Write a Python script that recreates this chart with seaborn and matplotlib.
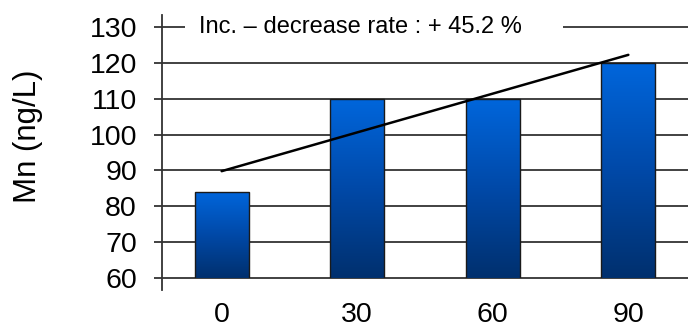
import numpy as np
import pandas as pd
import matplotlib
matplotlib.use("Agg")
import matplotlib.pyplot as plt
import seaborn as sns
from matplotlib.patches import Rectangle
from matplotlib.colors import LinearSegmentedColormap

# ---- data ----
days = ["0", "30", "60", "90"]
mn_values = [84, 110, 110, 120]
y_ticks = [60, 70, 80, 90, 100, 110, 120, 130]
y_label = "Mn (ng/L)"
rate_text = "Inc. \u2013 decrease rate : + 45.2 %"

sns.set_theme(style="white")
plt.rcParams["font.family"] = ["Liberation Sans", "DejaVu Sans"]

fig = plt.figure(figsize=(6.88, 3.29), dpi=100)
ax = fig.add_axes([162 / 688, 1 - 290 / 329, 1 - 162 / 688, (290 - 15) / 329])

df = pd.DataFrame({"day": days, "mn": mn_values})
sns.barplot(data=df, x="day", y="mn", ax=ax, width=0.4, facecolor="none",
            edgecolor="#1a1a1a", linewidth=1.0, zorder=3, errorbar=None)

XL = (-0.44, 3.44)
YL = (56.7, 133.3)

# gradient fill, bars start at 60
cmap = LinearSegmentedColormap.from_list("bl", ["#00306e", "#0049a8", "#0066dc"])
grad = np.linspace(0, 1, 256).reshape(-1, 1)
base = 60
clip = Rectangle((-1, base), 10, 200, transform=ax.transData)
for p in ax.patches:
    x0 = p.get_x(); w = p.get_width(); h = p.get_height()
    im = ax.imshow(grad, extent=[x0, x0 + w, base, h], origin="lower", cmap=cmap,
                   aspect="auto", zorder=2)
    im.set_clip_path(p)
    p.set_clip_path(clip)

# trend line
xpos = np.arange(len(mn_values))
sns.regplot(x=xpos, y=np.array(mn_values, dtype=float), ax=ax, scatter=False,
            ci=None, truncate=True, line_kws=dict(color="black", lw=1.8, zorder=5))
ax.set_xlim(*XL)
ax.set_ylim(*YL)

# grid
ax.set_yticks(y_ticks)
for yv in y_ticks:
    ax.axhline(yv, color="#333333", lw=1.3, zorder=1)

ax.set_xticks(xpos)
ax.set_xticklabels(days)
ax.tick_params(axis="x", length=0, pad=8.6, labelsize=20.5, labelcolor="black")
ax.tick_params(axis="y", left=True, length=6, width=1.3, color="#333333",
               pad=12, labelsize=20.5, labelcolor="black")
for s in ["top", "right", "bottom"]:
    ax.spines[s].set_visible(False)
ax.spines["left"].set_color("#333333")
ax.spines["left"].set_linewidth(1.3)

ax.set_xlabel("")
ax.set_ylabel(y_label, fontsize=22.5, color="black")
ax.yaxis.label.set_va("center")
ax.yaxis.set_label_coords(-0.254, 0.56)

# white box interrupting the top grid line behind the annotation
ax.add_patch(Rectangle((-0.272, 128.5), 2.79, 3.0, facecolor="white",
                       edgecolor="none", zorder=4))
ax.text(-0.17, 130, rate_text, fontsize=17, va="center", ha="left", zorder=6,
        color="black")

fig.savefig("out.png", dpi=100)
